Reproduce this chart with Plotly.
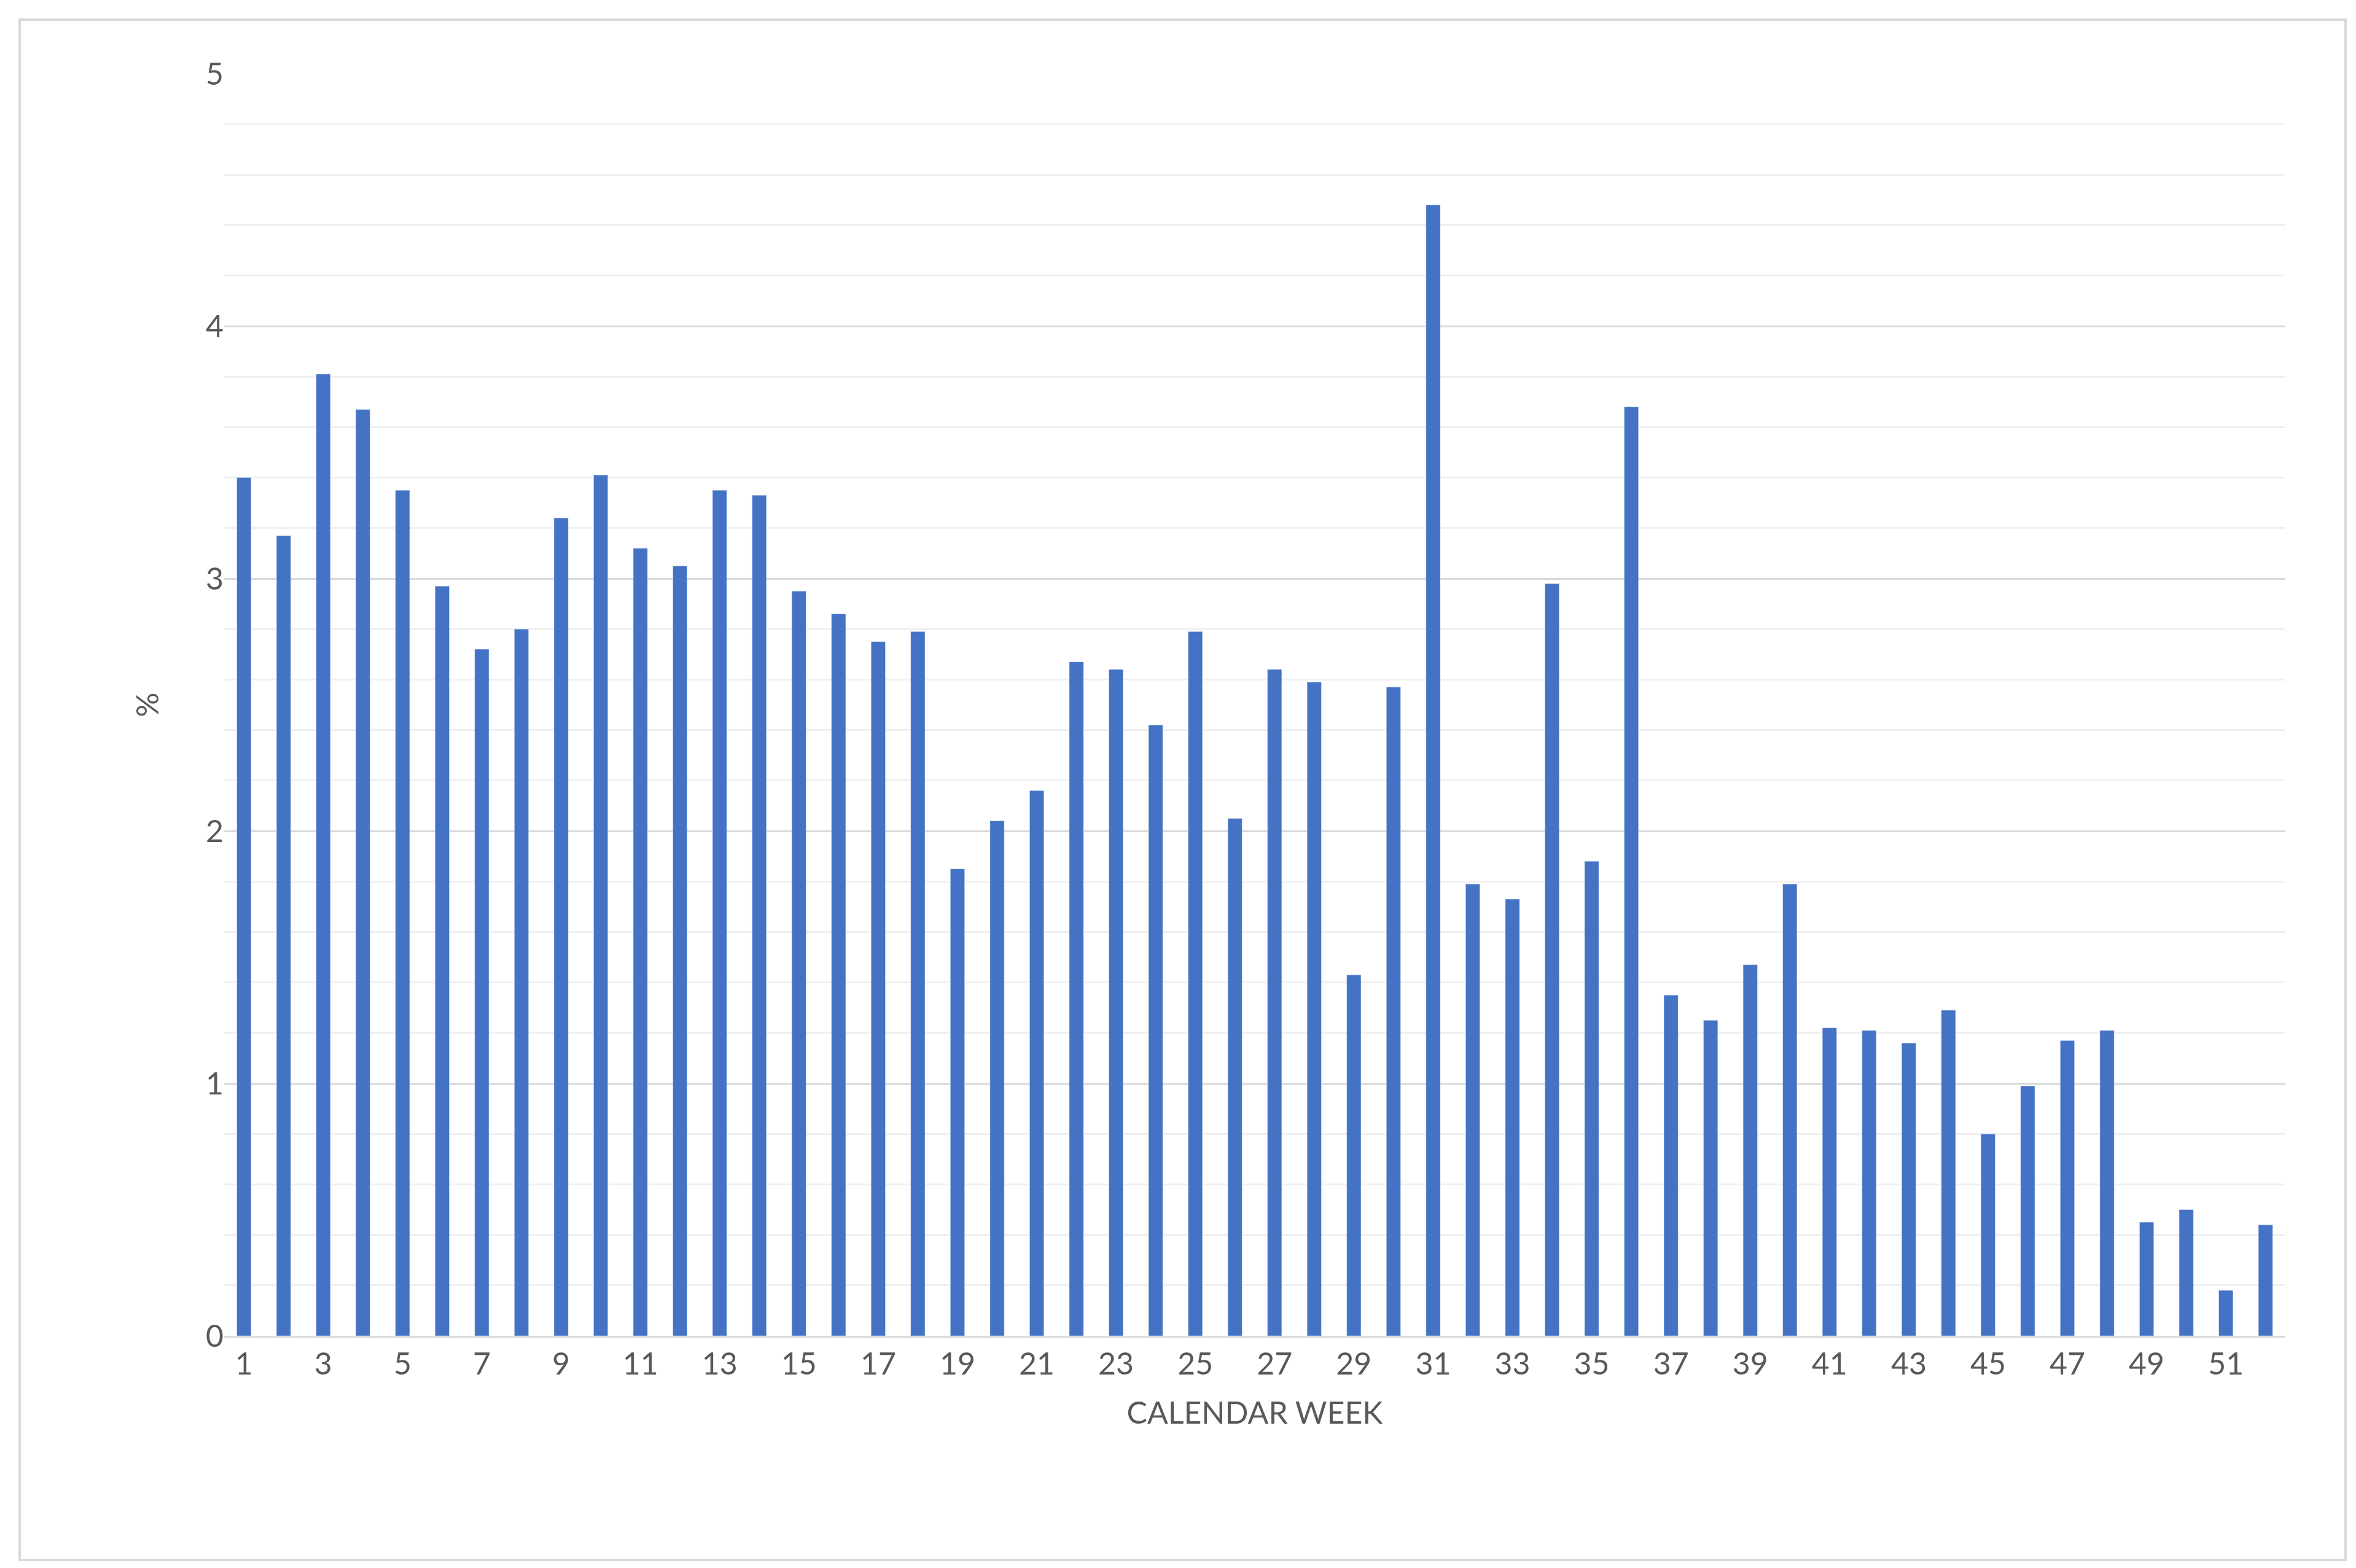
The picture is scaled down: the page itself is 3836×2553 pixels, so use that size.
import plotly.graph_objects as go

weeks = list(range(1, 53))
values = [3.40, 3.17, 3.81, 3.67, 3.35, 2.97, 2.72, 2.80, 3.24, 3.41,
          3.12, 3.05, 3.35, 3.33, 2.95, 2.86, 2.75, 2.79, 1.85, 2.04,
          2.16, 2.67, 2.64, 2.42, 2.79, 2.05, 2.64, 2.59, 1.43, 2.57,
          4.48, 1.79, 1.73, 2.98, 1.88, 3.68, 1.35, 1.25, 1.47, 1.79,
          1.22, 1.21, 1.16, 1.29, 0.80, 0.99, 1.17, 1.21, 0.45, 0.50,
          0.18, 0.44]
xticks = list(range(1, 53, 2))

fig = go.Figure(go.Bar(x=weeks, y=values, marker_color="#4472C4", width=0.36))

font = "Lato, 'Open Sans', sans-serif"
fig.update_layout(
    width=3836, height=2553,
    margin=dict(l=357, r=123, t=112, b=386),
    plot_bgcolor="white", paper_bgcolor="white",
    font=dict(family=font, color="#595959", size=50),
    showlegend=False,
    xaxis=dict(range=[0.5, 52.5], tickvals=xticks, ticktext=[str(v) for v in xticks],
               showgrid=False, showline=True, linecolor="#D9D9D9", linewidth=3,
               ticks="", ticklen=0,
               title=dict(text="CALENDAR WEEK", font=dict(size=50, color="#595959"), standoff=35)),
    yaxis=dict(range=[0, 5], dtick=1, showgrid=True, gridcolor="#D9D9D9", gridwidth=3,
               zeroline=False, ticks="",
               minor=dict(dtick=0.2, showgrid=True, gridcolor="#F0F0F0", gridwidth=3),
               title=dict(text="%", font=dict(size=50, color="#595959"), standoff=60)),
    shapes=[dict(type="rect", xref="paper", yref="paper",
                 x0=-0.0992, x1=1.0292, y0=-0.1776, y1=1.0428,
                 line=dict(color="#D9D9D9", width=4))],
)
fig.write_html("out.html")
